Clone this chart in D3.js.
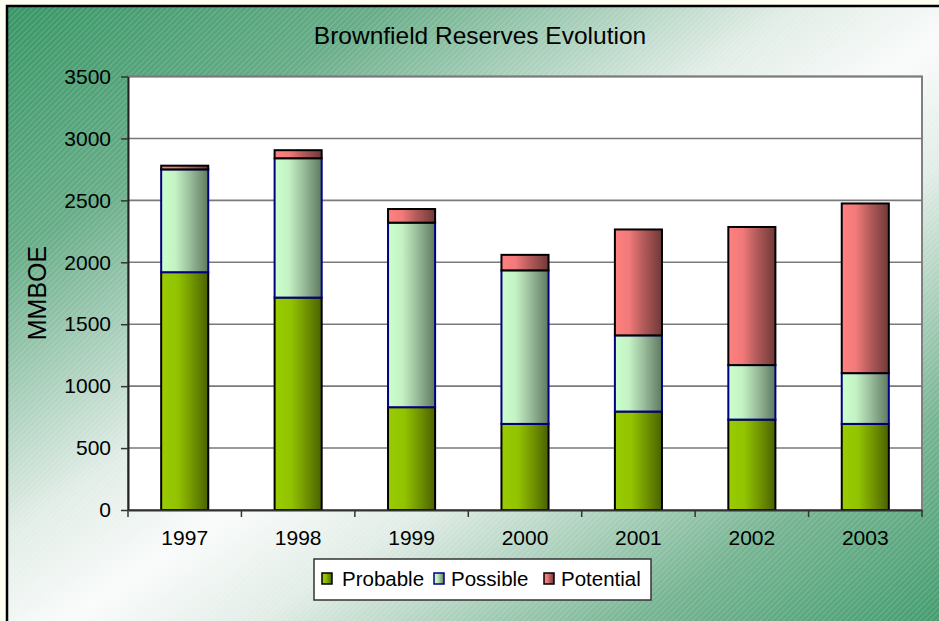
<!DOCTYPE html>
<html>
<head>
<meta charset="utf-8">
<script src="https://cdn.jsdelivr.net/npm/d3@7"></script>
<style>
  html, body { margin: 0; padding: 0; background: #fffff2; }
  svg { display: block; }
  text { font-family: Arial, "Liberation Sans", sans-serif; fill: #000; }
</style>
</head>
<body>
<svg id="chart" width="939" height="621"></svg>
<script>
// Reserves by year (MMBOE), stacked bottom to top
const years = ["1997", "1998", "1999", "2000", "2001", "2002", "2003"];
const probable  = [1920, 1715, 830, 695, 795, 730, 695];
const possible  = [830, 1125, 1490, 1240, 615, 440, 410];
const potential = [30, 65, 110, 125, 855, 1115, 1370];
const seriesNames = ["Probable", "Possible", "Potential"];
const yTicks = [0, 500, 1000, 1500, 2000, 2500, 3000, 3500];

const svg = d3.select("#chart");
const W = 939, H = 621;
const plot = { left: 128, right: 922, top: 76.5, bottom: 510 };

const defs = svg.append("defs");

// chart-area background: diagonal green → white → green wash with fine hatching
const bg = defs.append("linearGradient").attr("id", "bgGrad")
  .attr("x1", 0).attr("y1", 0).attr("x2", 1).attr("y2", 1);
[[0, "#379665"], [0.2, "#66ac87"], [0.42, "#e2ede7"], [0.52, "#f9fbfa"],
 [0.62, "#e2ede7"], [0.82, "#76b492"], [1, "#3e9a6b"]]
  .forEach(([o, c]) => bg.append("stop").attr("offset", o).attr("stop-color", c));

const hatch = defs.append("pattern").attr("id", "hatch")
  .attr("patternUnits", "userSpaceOnUse").attr("width", 4).attr("height", 4)
  .attr("patternTransform", "rotate(-45)");
hatch.append("rect").attr("x", 0).attr("y", 0).attr("width", 4).attr("height", 1.2)
  .attr("fill", "#ffffff").attr("fill-opacity", 0.16);

// bar fills: light on the left, shading darker to the right
const barShades = {
  Probable:  [[0, "#99cc00"], [0.35, "#92c300"], [0.6, "#789e00"], [1, "#4a6200"]],
  Possible:  [[0, "#ccffcc"], [0.3, "#c4f2c4"], [0.6, "#9cbf9d"], [1, "#5e7a60"]],
  Potential: [[0, "#ff8080"], [0.3, "#f27a7a"], [0.6, "#b45b5b"], [1, "#703838"]]
};
const strokes = { Probable: "#000000", Possible: "#000080", Potential: "#000000" };
seriesNames.forEach(name => {
  const g = defs.append("linearGradient").attr("id", "fill" + name)
    .attr("x1", 0).attr("y1", 0).attr("x2", 1).attr("y2", 0);
  barShades[name].forEach(([o, c]) => g.append("stop").attr("offset", o).attr("stop-color", c));
});

svg.append("rect").attr("x", 7).attr("y", 6).attr("width", 945).attr("height", 630)
  .attr("fill", "url(#bgGrad)");
svg.append("rect").attr("x", 7).attr("y", 6).attr("width", 945).attr("height", 630)
  .attr("fill", "url(#hatch)");
// outer frame
svg.append("path").attr("d", `M7,${H + 5} V6 H${W + 5}`)
  .attr("fill", "none").attr("stroke", "#000").attr("stroke-width", 2.5);

// scales
const x = d3.scaleBand().domain(years).range([plot.left, plot.right])
  .paddingInner(0.585).paddingOuter(0.2925);
const y = d3.scaleLinear().domain([0, 3500]).range([plot.bottom, plot.top]);

// plot area
svg.append("rect").attr("x", plot.left).attr("y", plot.top)
  .attr("width", plot.right - plot.left).attr("height", plot.bottom - plot.top)
  .attr("fill", "#ffffff").attr("stroke", "#808080").attr("stroke-width", 2);

// gridlines
svg.append("g").selectAll("line").data(yTicks.filter(v => v > 0)).join("line")
  .attr("x1", plot.left).attr("x2", plot.right)
  .attr("y1", d => y(d)).attr("y2", d => y(d))
  .attr("stroke", "#7a7a7a").attr("stroke-width", 1.6);

// stacked bars
const table = years.map((yr, i) => ({
  year: yr, Probable: probable[i], Possible: possible[i], Potential: potential[i]
}));
const stacked = d3.stack().keys(seriesNames)(table);
const barsG = svg.append("g");
stacked.forEach(layer => {
  const name = layer.key;
  barsG.append("g").selectAll("rect").data(layer).join("rect")
    .attr("x", d => x(d.data.year))
    .attr("width", x.bandwidth())
    .attr("y", d => y(d[1]))
    .attr("height", d => y(d[0]) - y(d[1]))
    .attr("fill", `url(#fill${name})`)
    .attr("stroke", strokes[name])
    .attr("stroke-width", 2);
});

// y axis
const yAxis = d3.axisLeft(y).tickValues(yTicks).tickFormat(d3.format("d"))
  .tickSize(7).tickPadding(10).tickSizeOuter(0);
const yG = svg.append("g").attr("transform", `translate(${plot.left},0)`).call(yAxis);
yG.select(".domain").attr("stroke", "#222").attr("stroke-width", 2);
yG.selectAll(".tick line").attr("stroke", "#333").attr("stroke-width", 1.5);
yG.selectAll(".tick text").attr("font-size", 21).attr("fill", "#000")
  .attr("font-family", "Arial, 'Liberation Sans', sans-serif");

// x axis with ticks between categories
const xAxis = d3.axisBottom(x).tickSize(0).tickPadding(20).tickSizeOuter(0);
const xG = svg.append("g").attr("transform", `translate(0,${plot.bottom})`).call(xAxis);
xG.select(".domain").attr("stroke", "#333").attr("stroke-width", 2);
xG.selectAll(".tick text").attr("font-size", 21).attr("fill", "#000")
  .attr("font-family", "Arial, 'Liberation Sans', sans-serif");
const bounds = years.map(d => x(d) - x.step() * x.paddingInner() / 2).concat([plot.right]);
bounds[0] = plot.left;
xG.selectAll("line.sep").data(bounds).join("line").attr("class", "sep")
  .attr("x1", d => d).attr("x2", d => d).attr("y1", 0).attr("y2", 7)
  .attr("stroke", "#333").attr("stroke-width", 1.5);

// title and axis label
svg.append("text").attr("x", 480).attr("y", 44).attr("text-anchor", "middle")
  .attr("font-size", 24.5).text("Brownfield Reserves Evolution");
svg.append("text").attr("transform", "translate(46,293) rotate(-90)")
  .attr("text-anchor", "middle").attr("font-size", 25).text("MMBOE");

// legend
const leg = svg.append("g");
leg.append("rect").attr("x", 314).attr("y", 559).attr("width", 337).attr("height", 41)
  .attr("fill", "#ffffff").attr("stroke", "#333").attr("stroke-width", 1.5);
const legX = [{ sq: 322, tx: 342 }, { sq: 434, tx: 451 }, { sq: 544, tx: 561 }];
seriesNames.forEach((name, i) => {
  leg.append("rect").attr("x", legX[i].sq).attr("y", 573).attr("width", 10).attr("height", 11)
    .attr("fill", `url(#fill${name})`).attr("stroke", strokes[name]).attr("stroke-width", 1.5);
  leg.append("text").attr("x", legX[i].tx).attr("y", 586).attr("font-size", 20.5).text(name);
});
</script>
</body>
</html>
